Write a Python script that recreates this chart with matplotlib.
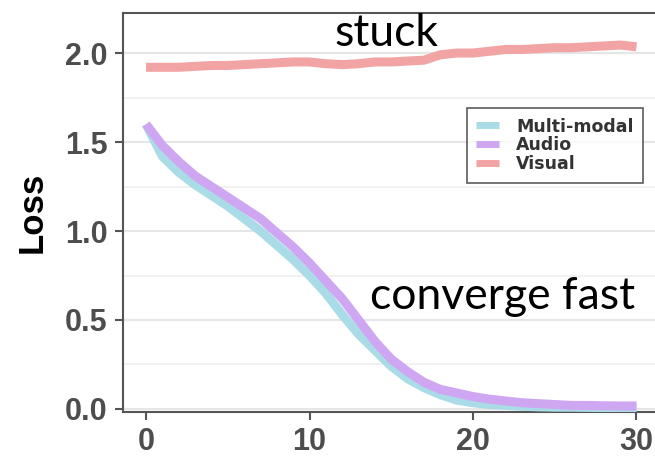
import matplotlib
matplotlib.use('Agg')
import matplotlib.pyplot as plt
from matplotlib.ticker import MultipleLocator

epochs = list(range(31))
multi_modal = [1.60, 1.42, 1.33, 1.26, 1.20, 1.14, 1.07, 1.00, 0.92, 0.84,
               0.75, 0.65, 0.53, 0.42, 0.33, 0.24, 0.17, 0.12, 0.08, 0.05,
               0.035, 0.025, 0.02, 0.015, 0.012, 0.01, 0.01, 0.009, 0.008, 0.008, 0.008]
audio = [1.60, 1.48, 1.39, 1.31, 1.25, 1.19, 1.13, 1.07, 0.99, 0.91,
         0.82, 0.72, 0.62, 0.50, 0.38, 0.28, 0.21, 0.15, 0.11, 0.09,
         0.07, 0.055, 0.045, 0.035, 0.03, 0.025, 0.02, 0.02, 0.018, 0.017, 0.017]
visual = [1.92, 1.92, 1.92, 1.925, 1.93, 1.93, 1.935, 1.94, 1.945, 1.95,
          1.95, 1.94, 1.935, 1.94, 1.95, 1.95, 1.955, 1.96, 1.99, 2.0,
          2.0, 2.01, 2.02, 2.02, 2.025, 2.03, 2.03, 2.035, 2.04, 2.045, 2.035]

labels = ['Multi-modal', 'Audio', 'Visual']
colors = ['#a9dce6', '#cfa6f2', '#f2a3a3']

fig = plt.figure(figsize=(6.55, 4.59), dpi=100)
ax = fig.add_axes([123 / 655, 47 / 459, 547 / 655, 399 / 459])

for ys, lab, c in zip([multi_modal, audio, visual], labels, colors):
    ax.plot(epochs, ys, color=c, lw=6.5, label=lab, solid_capstyle='butt',
            solid_joinstyle='round', zorder=3)

ax.set_xlim(-1.41, 32.05)
ax.set_ylim(-0.017, 2.225)
ax.xaxis.set_major_locator(MultipleLocator(10))
ax.yaxis.set_major_locator(MultipleLocator(0.5))
ax.yaxis.set_minor_locator(MultipleLocator(0.25))
ax.yaxis.set_major_formatter(matplotlib.ticker.FormatStrFormatter('%.1f'))

ax.grid(axis='y', which='major', color='#e6e6e6', lw=1.5, zorder=0)
ax.grid(axis='y', which='minor', color='#efefef', lw=1.2, zorder=0)
ax.tick_params(axis='y', which='minor', length=0)

for s in ['left', 'bottom', 'top']:
    ax.spines[s].set_color('#555555')
    ax.spines[s].set_linewidth(1.5)
ax.spines['right'].set_visible(False)
ax.tick_params(which='major', length=6, width=1.5, color='#555555',
               labelsize=22, labelcolor='#4d4d4d', pad=5)
for t in ax.get_xticklabels() + ax.get_yticklabels():
    t.set_fontweight('bold')
    t.set_family('Liberation Sans')

ax.set_ylabel('Loss', fontsize=25, fontweight='bold', family='Liberation Sans', labelpad=12)

ax.text(14.7, 2.11, 'stuck', fontsize=32, family='Lato', ha='center', va='center')
ax.text(21.8, 0.63, 'converge fast', fontsize=32, family='Lato', ha='center', va='center')

leg = ax.legend(loc='upper right', bbox_to_anchor=(0.951, 0.762), frameon=True, fancybox=False,
                prop={'family': 'DejaVu Sans', 'weight': 'bold', 'size': 12.5},
                labelspacing=0.05, handlelength=1.3, handletextpad=1.0, borderpad=0.55,
                borderaxespad=0)
leg.get_frame().set_edgecolor('#333333')
leg.get_frame().set_linewidth(1.2)
for h in leg.get_lines():
    h.set_linewidth(5)
for t in leg.get_texts():
    t.set_color('#333333')

fig.savefig('out.png', dpi=100)
